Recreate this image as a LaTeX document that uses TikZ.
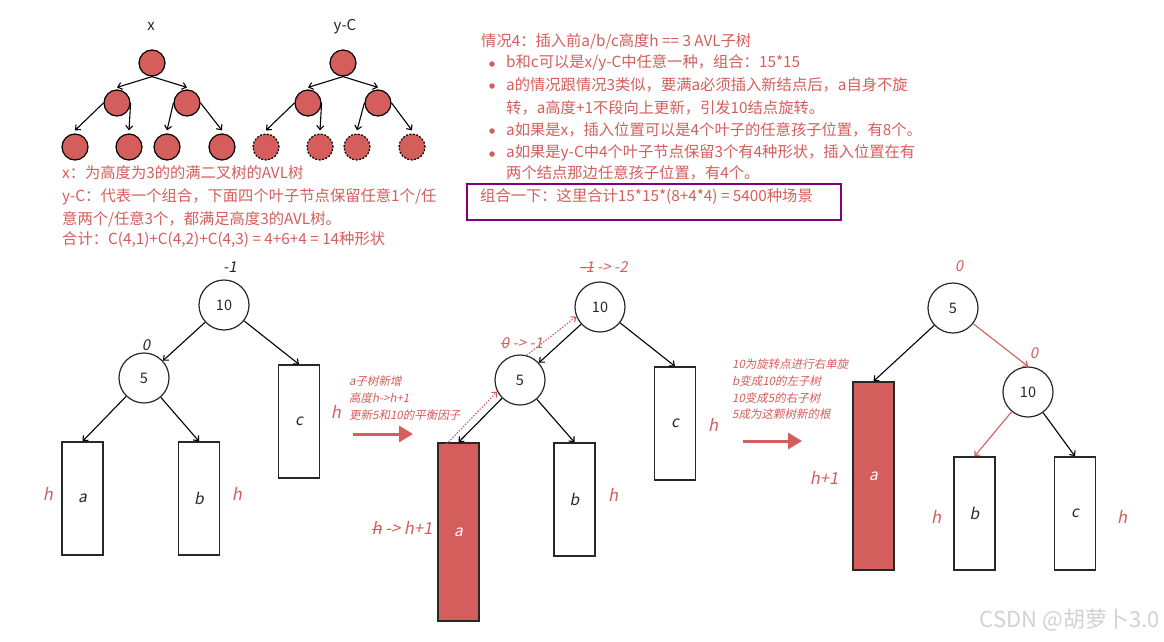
\documentclass[tikz,border=0pt]{standalone}
\usepackage{fontspec}
\setmainfont{Noto Sans CJK SC}
\newfontfamily\slfont[FakeSlant=0.2]{Noto Sans CJK SC}
\usetikzlibrary{arrows.meta}
\definecolor{mred}{RGB}{212,94,92}
\definecolor{dk}{RGB}{40,40,40}
\definecolor{purp}{RGB}{128,0,128}
\definecolor{wm}{RGB}{210,210,210}
\newsavebox\stkbox
\newcommand\stk[1]{\sbox\stkbox{#1}\rlap{\rule[0.3em]{\wd\stkbox}{0.8pt}}\usebox\stkbox}
\tikzset{
  ball/.style={circle, draw=black, fill=mred, minimum size=26pt, inner sep=0pt, line width=1.2pt},
  dball/.style={ball, dash pattern=on 2pt off 1.5pt},
  tarr/.style={-{Straight Barb[length=4pt,width=7pt]}, line width=1.1pt, black},
  rarr/.style={-{Straight Barb[length=4pt,width=7pt]}, line width=1.1pt, mred},
  darr/.style={-{Straight Barb[length=4pt,width=7pt]}, line width=1.1pt, mred, dash pattern=on 1.5pt off 1.5pt},
  bn/.style={circle, draw=dk, minimum size=50pt, inner sep=0pt, line width=1.2pt, text=dk, font=\fontsize{14.5}{14.5}\selectfont},
  tbox/.style={draw=dk, line width=1.4pt, minimum width=41pt, inner sep=0pt, text=dk, font=\slfont\fontsize{15.5}{15.5}\selectfont},
  rbox/.style={tbox, fill=mred, text=white},
  lbl/.style={inner sep=0pt, text=dk, font=\slfont\fontsize{15}{15}\selectfont},
  rlbl/.style={inner sep=0pt, text=mred, font=\slfont\fontsize{15}{15}\selectfont},
  hlbl/.style={inner sep=0pt, text=mred, font=\slfont\fontsize{16.5}{16.5}\selectfont},
  txt/.style={anchor=west, inner sep=0pt, text=mred, font=\fontsize{15.3}{15.3}\selectfont},
  note/.style={anchor=west, inner sep=0pt, text=mred, font=\slfont\fontsize{11.5}{11.5}\selectfont},
  bigarr/.style={mred, line width=3pt, -{Triangle[length=14pt,width=16pt]}},
  bul/.style={circle, fill=mred, inner sep=0pt, minimum size=5.5pt}
}
\begin{document}
\begin{tikzpicture}[x=1pt,y=-1pt]
\useasboundingbox (0,0) rectangle (1164,641);
\fill[white] (0,0) rectangle (1164,641);

% ---- x tree
\node[inner sep=0pt, text=dk, font=\fontsize{15}{15}\selectfont] (xlab) at (151,26) {x};
\node[ball] (xr) at (152,63) {};
\node[ball] (xl) at (117,103) {};
\node[ball] (xR) at (187,103) {};
\node[ball] (x1) at (75,147) {};
\node[ball] (x2) at (129,147) {};
\node[ball] (x3) at (167,147) {};
\node[ball] (x4) at (222,147) {};
\draw[tarr] (xr.south) -- ([yshift=2pt]xl.north);
\draw[tarr] (xr.south) -- ([yshift=2pt]xR.north);
\draw[tarr] (xl.west) -- ([yshift=3pt]x1.north);
\draw[tarr] (xl.east) -- ([yshift=3pt]x2.north);
\draw[tarr] (xR.west) -- ([yshift=3pt]x3.north);
\draw[tarr] (xR.east) -- ([yshift=3pt]x4.north);

% ---- y-C tree
\node[inner sep=0pt, text=dk, font=\fontsize{15}{15}\selectfont] (ylab) at (345,27) {y-C};
\node[ball] (yr) at (343,63) {};
\node[ball] (yl) at (308,103) {};
\node[ball] (yR) at (378,103) {};
\node[dball] (y1) at (266,147) {};
\node[dball] (y2) at (320,147) {};
\node[dball] (y3) at (357,147) {};
\node[dball] (y4) at (412,147) {};
\draw[tarr] (yr.south) -- ([yshift=2pt]yl.north);
\draw[tarr] (yr.south) -- ([yshift=2pt]yR.north);
\draw[tarr] (yl.west) -- ([yshift=3pt]y1.north);
\draw[tarr] (yl.east) -- ([yshift=3pt]y2.north);
\draw[tarr] (yR.west) -- ([yshift=3pt]y3.north);
\draw[tarr] (yR.east) -- ([yshift=3pt]y4.north);

% ---- left text
\node[txt] (L1) at (62,173) {x：为高度为3的的满二叉树的AVL树};
\node[txt] (L2) at (62,197) {y-C：代表一个组合，下面四个叶子节点保留任意1个/任};
\node[txt] (L3) at (62,219) {意两个/任意3个，都满足高度3的AVL树。};
\node[txt] (L4) at (62,240) {合计：C(4,1)+C(4,2)+C(4,3) = 4+6+4 = 14种形状};

% ---- right text
\node[txt] (R1) at (481,41) {情况4：插入前a/b/c高度h == 3 AVL子树};
\node[bul] (B1) at (492,64) {};
\node[txt] (R2) at (506,63) {b和c可以是x/y-C中任意一种，组合：15*15};
\node[bul] (B2) at (492,86) {};
\node[txt] (R3) at (506,85) {a的情况跟情况3类似，要满a必须插入新结点后，a自身不旋};
\node[txt] (R4) at (506,108) {转，a高度+1不段向上更新，引发10结点旋转。};
\node[bul] (B3) at (492,131) {};
\node[txt] (R5) at (506,130) {a如果是x，插入位置可以是4个叶子的任意孩子位置，有8个。};
\node[bul] (B4) at (492,154) {};
\node[txt] (R6) at (506,153) {a如果是y-C中4个叶子节点保留3个有4种形状，插入位置在有};
\node[txt] (R7) at (506,173) {两个结点那边任意孩子位置，有4个。};
\node[txt] (R8) at (480,197) {组合一下：这里合计15*15*(8+4*4) = 5400种场景};
\draw[purp, line width=2.5pt] (467,184) rectangle (841,220);

% ---- tree 1
\node[lbl] (t1) at (230,267) {-1};
\node[bn] (r1) at (224,305) {10};
\node[lbl] (t1b) at (146,345) {0};
\node[bn] (f1) at (144,378) {5};
\node[tbox, minimum height=113pt] (a1) at (82.5,498.5) {a};
\node[tbox, minimum height=113pt] (b1) at (199,498.5) {b};
\node[tbox, minimum height=113pt] (c1) at (299,421.5) {c};
\node[hlbl] (h1a) at (48,494) {h};
\node[hlbl] (h1b) at (237,494) {h};
\node[hlbl] (h1c) at (336,412) {h};
\draw[tarr] (r1) -- (f1);
\draw[tarr] (r1) -- (c1.north);
\draw[tarr] (f1) -- (a1.north);
\draw[tarr] (f1) -- (b1.north);

% ---- arrow 1
\node[note] (n11) at (349,381) {a子树新增};
\node[note] (n12) at (349,398) {高度h->h+1};
\node[note] (n13) at (349,415) {更新5和10的平衡因子};
\coordinate (ba1s) at (353,434);
\coordinate (ba1e) at (413,434);
\draw[bigarr] (ba1s) -- (ba1e);

% ---- tree 2
\node[rlbl] (t2) at (604,267) {\stk{-1} -> -2};
\node[bn] (r2) at (600,307) {10};
\node[rlbl] (t2b) at (522,343) {\stk{0} -> -1};
\node[bn] (f2) at (520,380) {5};
\node[rbox, minimum height=178pt] (a2) at (458.5,532) {a};
\node[tbox, minimum height=113pt] (b2) at (574.5,499.5) {b};
\node[tbox, minimum height=113pt] (c2) at (675,423.5) {c};
\node[hlbl] (h2a) at (402,528) {\stk{h} -> h+1};
\node[hlbl] (h2b) at (613,495) {h};
\node[hlbl] (h2c) at (713,425) {h};
\draw[tarr] (r2) -- (f2);
\draw[tarr] (r2) -- (c2.north);
\draw[tarr] (f2) -- (a2.north);
\draw[tarr] (f2) -- (b2.north);
\draw[darr] ([xshift=9pt,yshift=-2pt]a2.north west) -- (f2.207);
\draw[darr] (f2.75) -- (r2.202);

% ---- arrow 2
\node[note] (n21) at (732,364) {10为旋转点进行右单旋};
\node[note] (n22) at (732,381) {b变成10的左子树};
\node[note] (n23) at (732,398) {10变成5的右子树};
\node[note] (n24) at (732,414) {5成为这颗树新的根};
\coordinate (ba2s) at (743,441);
\coordinate (ba2e) at (802,441);
\draw[bigarr] (ba2s) -- (ba2e);

% ---- tree 3
\node[rlbl] (t3) at (959,266) {0};
\node[bn] (r3) at (953,308) {5};
\node[rlbl] (t3b) at (1034,353) {0};
\node[bn] (f3) at (1028,392) {10};
\node[rbox, minimum height=188pt] (a3) at (873.5,476) {a};
\node[tbox, minimum height=113pt] (b3) at (974.5,513.5) {b};
\node[tbox, minimum height=113pt] (c3) at (1075,513.5) {c};
\node[hlbl] (h3a) at (824,478) {h+1};
\node[hlbl] (h3b) at (936,517) {h};
\node[hlbl] (h3c) at (1122,517) {h};
\draw[tarr] (r3) -- (a3.north);
\draw[rarr] (r3) -- (f3.north);
\draw[rarr] (f3) -- (b3.north);
\draw[tarr] (f3) -- (c3.north);

% ---- watermark
\node[anchor=east, inner sep=0pt, text=wm, font=\fontsize{22}{22}\selectfont] (wmk) at (1160,620) {CSDN @胡萝卜3.0};
\end{tikzpicture}
\end{document}
